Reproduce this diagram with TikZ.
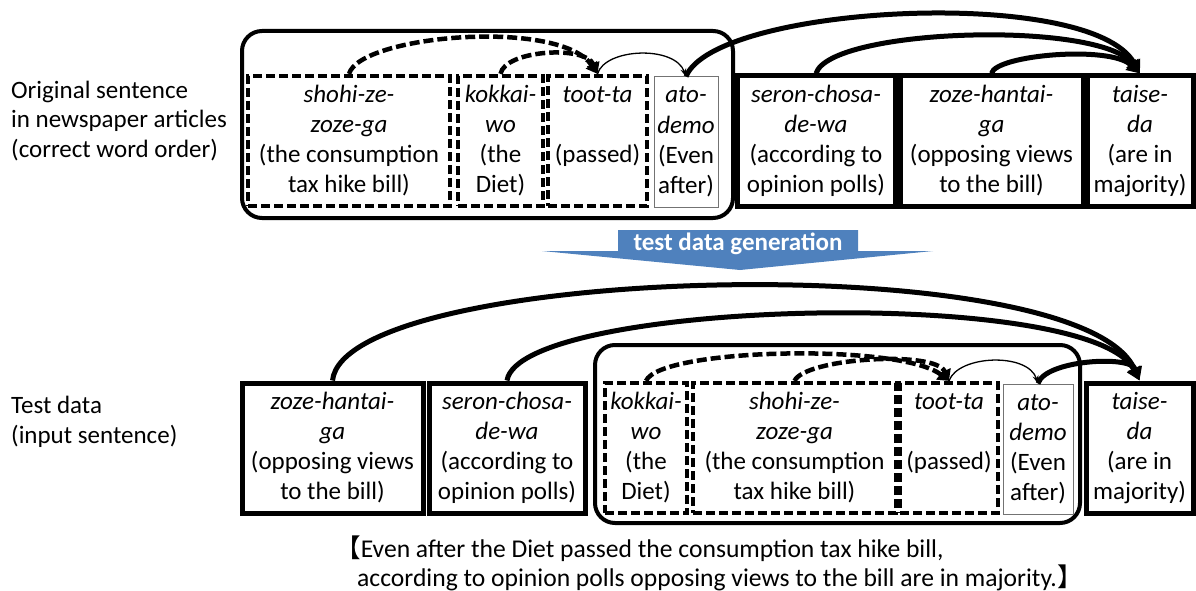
\documentclass[tikz,border=0pt]{standalone}
\usepackage{fontspec}
\setmainfont{Carlito}
\newfontfamily\cjk{Noto Sans CJK JP}
\usetikzlibrary{arrows.meta}
\newcommand\wfont{\fontsize{25}{30}\selectfont}
\definecolor{arrblue}{RGB}{79,129,189}
\tikzset{
  wbox/.style={draw, line width=5pt, inner sep=0pt, minimum height=130pt, align=center, font=\wfont},
  dbox/.style={draw, line width=4.2pt, dash pattern=on 9pt off 4pt, inner sep=0pt, minimum height=130pt, align=center, font=\wfont},
  tbox/.style={draw=black!55, line width=1pt, inner sep=0pt, minimum height=130pt, align=center, font=\wfont},
  grp/.style={draw, line width=4pt, rounded corners=20pt, inner sep=0pt},
  thk/.style={line width=5pt, -{Triangle[length=13pt,width=14pt]}},
  dsh/.style={line width=4.5pt, dash pattern=on 10pt off 4pt, -{Triangle[length=11pt,width=13pt]}},
  thn/.style={line width=1.3pt, -{Stealth[length=8pt,width=6pt]}},
  lbl/.style={anchor=west, align=left, inner sep=0pt, font=\fontsize{25}{29.5}\selectfont},
  captxt/.style={anchor=west, inner sep=0pt, font=\fontsize{25.6}{29}\selectfont},
}
\begin{document}
\begin{tikzpicture}[x=1pt,y=-1pt]
\useasboundingbox (0,0) rectangle (1196,591);
% left labels
\node[lbl] (lab1) at (11,121) {Original sentence\\in newspaper articles\\(correct word order)};
\node[lbl] (lab2) at (11,422) {Test data\\(input sentence)};
% ---------- top row ----------
\node[grp, minimum width=491pt, minimum height=187pt] (grpT) at (487.5,124.5) {};
\node[dbox, minimum width=202pt] (shohiT) at (349,141) {\strut\textit{shohi-ze-}\\\strut\textit{zoze-ga}\\\strut(the consumption\\\strut tax hike bill)};
\node[dbox, minimum width=85pt] (kokkaiT) at (500.5,141) {\strut\textit{kokkai-}\\\strut\textit{wo}\\\strut(the\\\strut Diet)};
\node[dbox, minimum width=99pt] (tootT) at (597.5,141) {\strut\textit{toot-ta}\\\strut\\\strut(passed)\\\strut};
\node[tbox, minimum width=64pt] (atoT) at (686,142) {\strut\textit{ato-}\\\strut\textit{demo}\\\strut(Even\\\strut after)};
\node[wbox, minimum width=158pt] (seronT) at (816,141) {\strut\textit{seron-chosa-}\\\strut\textit{de-wa}\\\strut(according to\\\strut opinion polls)};
\node[wbox, minimum width=183pt] (zozeT) at (991.5,141) {\strut\textit{zoze-hantai-}\\\strut\textit{ga}\\\strut(opposing views\\\strut to the bill)};
\node[wbox, minimum width=106pt] (taiseT) at (1140,141) {\strut\textit{taise-}\\\strut\textit{da}\\\strut(are in\\\strut majority)};
% top connectors
\draw[dsh] (shohiT.north) .. controls (360,35) and (560,18) .. (tootT.north);
\draw[dsh] (kokkaiT.north) .. controls (505,50) and (585,45) .. (tootT.north);
\draw[thn] (tootT.north) .. controls (605,48) and (675,45) .. (atoT.north);
\draw[thk] (atoT.north) .. controls (715,5) and (1090,-15) .. (taiseT.north);
\draw[thk] (seronT.north) .. controls (830,28) and (1100,20) .. (taiseT.north);
\draw[thk] (zozeT.north) .. controls (995,55) and (1110,45) .. (taiseT.north);
% ---------- blue arrow ----------
\fill[arrblue] (618,230) -- (858,230) -- (858,251) -- (933,251) -- (740,270) -- (542,251) -- (618,251) -- cycle;
\node[inner sep=0pt, text=white, font=\fontsize{25}{30}\selectfont\bfseries] (gen) at (738,244) {test data generation};
% ---------- bottom row ----------
\node[grp, minimum width=485pt, minimum height=178pt] (grpB) at (837.5,434) {};
\node[wbox, minimum width=181pt] (zozeB) at (332.5,448) {\strut\textit{zoze-hantai-}\\\strut\textit{ga}\\\strut(opposing views\\\strut to the bill)};
\node[wbox, minimum width=156pt] (seronB) at (507,448) {\strut\textit{seron-chosa-}\\\strut\textit{de-wa}\\\strut(according to\\\strut opinion polls)};
\node[dbox, minimum width=82pt] (kokkaiB) at (646,448) {\strut\textit{kokkai-}\\\strut\textit{wo}\\\strut(the\\\strut Diet)};
\node[dbox, minimum width=203pt] (shohiB) at (794.5,448) {\strut\textit{shohi-ze-}\\\strut\textit{zoze-ga}\\\strut(the consumption\\\strut tax hike bill)};
\node[dbox, minimum width=98pt] (tootB) at (949,448) {\strut\textit{toot-ta}\\\strut\\\strut(passed)\\\strut};
\node[tbox, minimum width=70pt] (atoB) at (1038,449) {\strut\textit{ato-}\\\strut\textit{demo}\\\strut(Even\\\strut after)};
\node[wbox, minimum width=107pt] (taiseB) at (1139.5,448) {\strut\textit{taise-}\\\strut\textit{da}\\\strut(are in\\\strut majority)};
% bottom connectors
\draw[dsh] (kokkaiB.north) .. controls (660,348) and (900,343) .. (tootB.north);
\draw[dsh] (shohiB.north) .. controls (805,358) and (935,350) .. (tootB.north);
\draw[thn] (tootB.north) .. controls (958,355) and (1028,352) .. (atoB.north);
\draw[thk] (atoB.north) .. controls (1045,360) and (1130,355) .. (taiseB.north);
\draw[thk] (zozeB.north) .. controls (345,265) and (1080,245) .. (taiseB.north);
\draw[thk] (seronB.north) .. controls (520,300) and (1090,285) .. (taiseB.north);
% caption
\node[captxt] (cap1) at (335,549) {{\cjk 【}Even after the Diet passed the consumption tax hike bill,};
\node[captxt] (cap2) at (357,578) {according to opinion polls opposing views to the bill are in majority.{\cjk 】}};
\end{tikzpicture}
\end{document}
